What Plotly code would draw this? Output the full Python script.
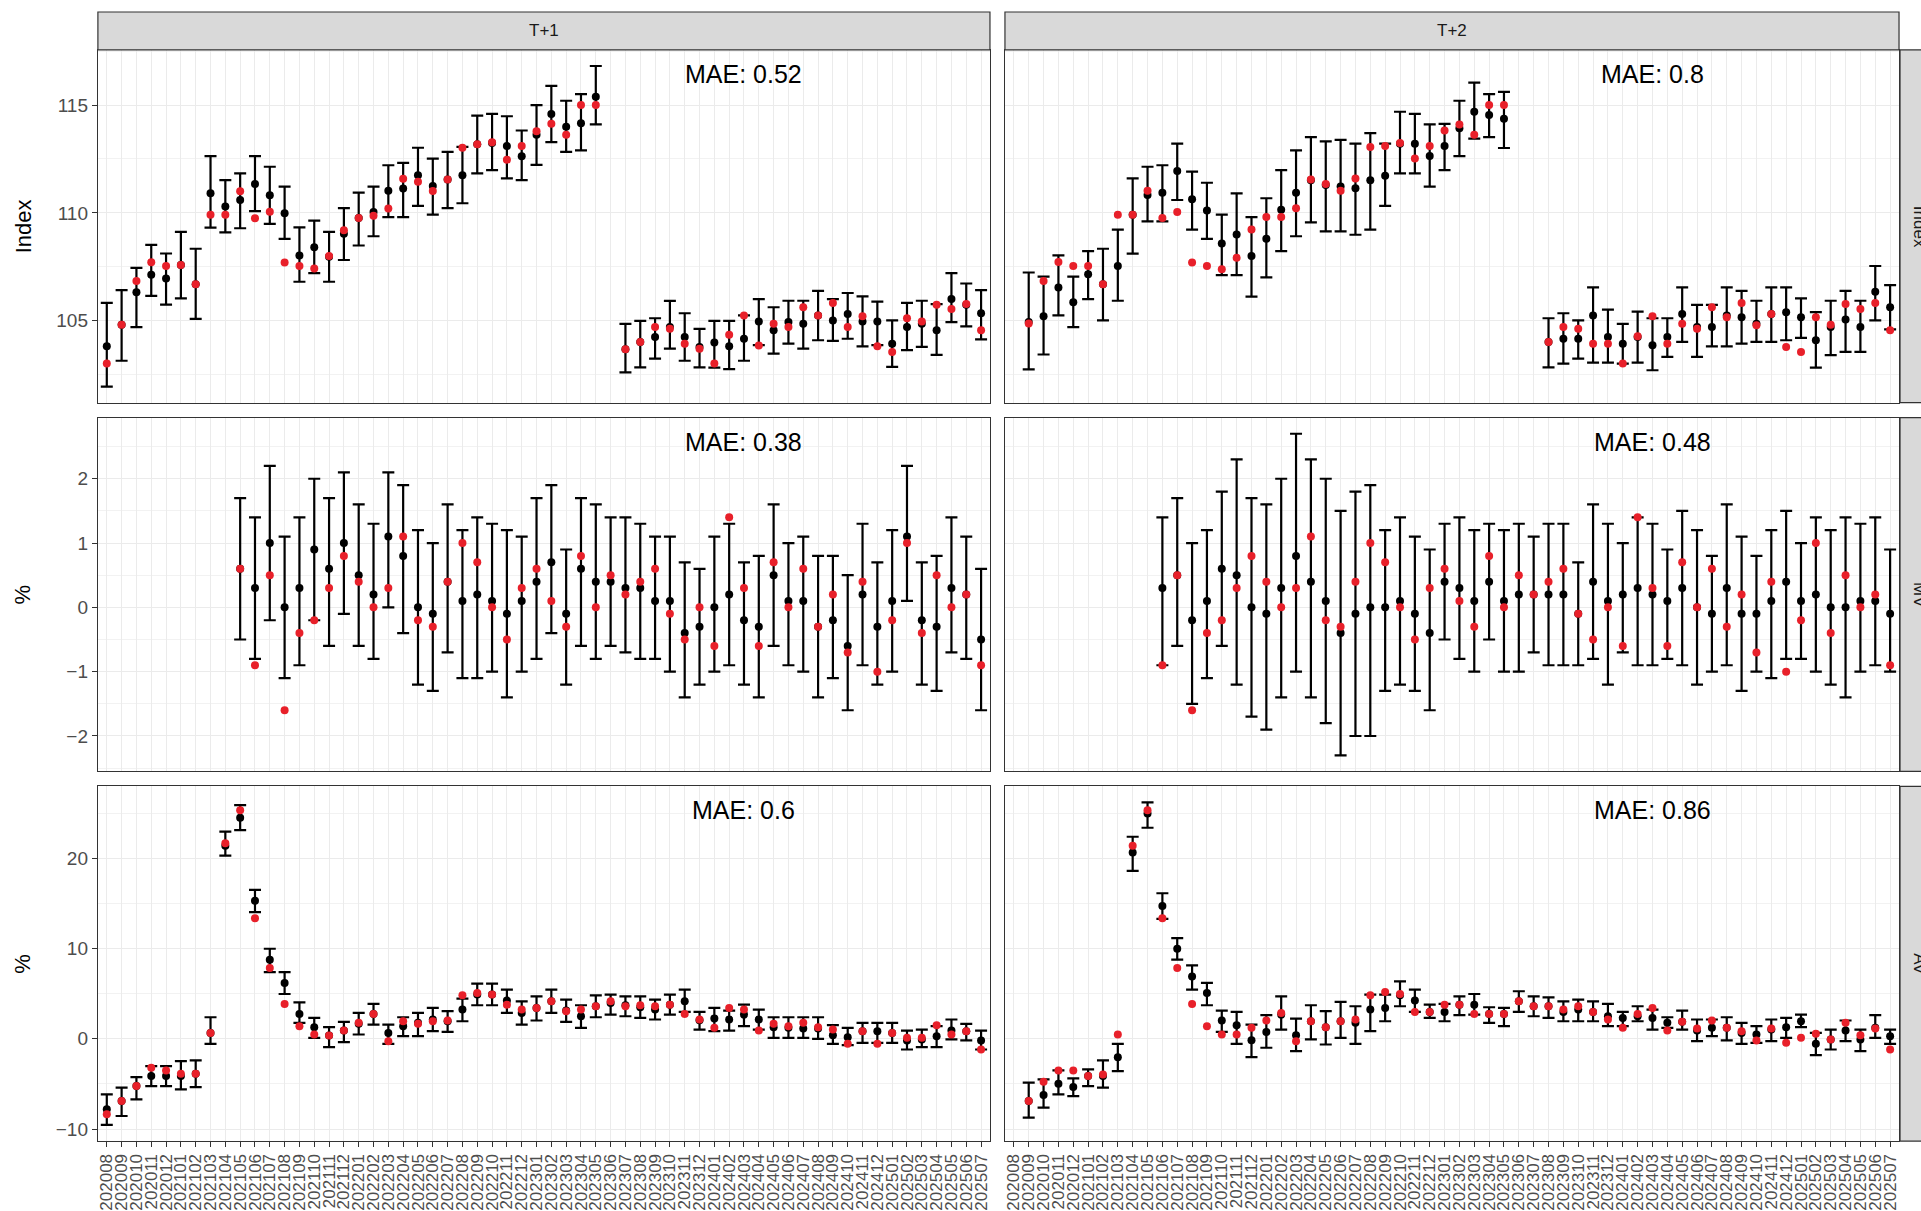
import plotly.graph_objects as go

N = None

# Monthly reference periods shared by all panels
months = [
    "202008", "202009", "202010", "202011", "202012",
    "202101", "202102", "202103", "202104", "202105", "202106",
    "202107", "202108", "202109", "202110", "202111", "202112",
    "202201", "202202", "202203", "202204", "202205", "202206",
    "202207", "202208", "202209", "202210", "202211", "202212",
    "202301", "202302", "202303", "202304", "202305", "202306",
    "202307", "202308", "202309", "202310", "202311", "202312",
    "202401", "202402", "202403", "202404", "202405", "202406",
    "202407", "202408", "202409", "202410", "202411", "202412",
    "202501", "202502", "202503", "202504", "202505", "202506",
    "202507",
]

horizons = ["T+1", "T+2"]
variables = ["Index", "MV", "AV"]
y_titles = ["Index", "%", "%"]
mae_labels = [["MAE: 0.52", "MAE: 0.8"], ["MAE: 0.38", "MAE: 0.48"], ["MAE: 0.6", "MAE: 0.86"]]

# ---- Index, horizon T+1 ----
idx1_fc = [103.82, 104.82, 106.32, 107.14, 106.96, 107.59, 106.70, 110.91, 110.30, 110.60,
           111.34, 110.82, 109.99, 108.03, 108.41, 107.97, 109.03, 109.76, 110.04, 111.03,
           111.13, 111.75, 111.25, 111.55, 111.75, 113.18, 113.24, 113.10, 112.63, 113.62,
           114.59, 114.00, 114.16, 115.38, N, 103.68, 104.02, 104.25, 104.71, 104.25,
           103.79, 103.99, 103.82, 104.17, 104.97, 104.56, 104.94, 104.86, 105.25, 105.02,
           105.32, 104.97, 104.97, 103.94, 104.71, 104.86, 104.56, 106.01, 105.74, 105.35]
idx1_lo = [101.95, 103.15, 104.71, 106.16, 105.75, 106.04, 105.09, 109.32, 109.10, 109.29,
           110.08, 109.49, 108.80, 106.81, 107.21, 106.81, 107.82, 108.49, 108.92, 109.81,
           109.81, 110.33, 109.92, 110.22, 110.45, 111.83, 111.98, 111.60, 111.52, 112.23,
           113.28, 112.83, 112.90, 114.10, N, 102.61, 102.84, 103.25, 103.71, 103.15,
           102.84, 102.83, 102.76, 103.15, 103.87, 103.48, 103.94, 103.71, 104.10, 104.07,
           104.17, 103.82, 103.87, 102.87, 103.64, 103.79, 103.42, 104.94, 104.74, 104.14]
idx1_hi = [105.83, 106.42, 107.45, 108.52, 108.12, 109.12, 108.34, 112.63, 111.52, 111.83,
           112.63, 112.14, 111.22, 109.33, 109.64, 109.12, 110.22, 110.94, 111.22, 112.21,
           112.32, 113.02, 112.52, 112.83, 113.06, 114.51, 114.59, 114.48, 113.82, 115.00,
           115.89, 115.20, 115.51, 116.81, N, 104.86, 105.00, 105.12, 105.92, 105.35,
           104.63, 105.00, 105.00, 105.25, 106.01, 105.63, 105.93, 105.93, 106.39, 106.01,
           106.29, 106.13, 105.89, 105.02, 105.83, 105.93, 105.77, 107.21, 106.73, 106.42]
idx1_act = [103.02, 104.82, 106.84, 107.71, 107.54, 107.59, 106.70, 109.92, 109.92, 111.00,
            109.75, 110.05, 107.70, 107.54, 107.42, 108.00, 109.20, 109.76, 109.87, 110.21,
            111.59, 111.45, 111.02, 111.55, 113.02, 113.18, 113.28, 112.47, 113.10, 113.79,
            114.13, 113.62, 115.00, 115.00, N, 103.68, 104.02, 104.71, 104.63, 103.94,
            103.71, 103.02, 104.36, 105.25, 103.86, 104.86, 104.71, 105.63, 105.25, 105.83,
            104.71, 105.21, 103.82, 103.56, 105.12, 104.97, 105.74, 105.55, 105.78, 104.56]

# ---- Index, horizon T+2 ----
idx2_fc = [N, 104.95, 105.21, 106.55, 105.86, 107.16, 106.70, 107.54, 109.92, 110.83,
           110.94, 111.94, 110.64, 110.11, 108.58, 109.00, 108.00, 108.80, 110.15, 110.94,
           111.52, 111.29, 111.22, 111.14, 111.52, 111.72, 113.21, 113.21, 112.64, 113.10,
           113.93, 114.69, 114.54, 114.36, N, N, 104.02, 104.17, 104.17, 105.25,
           104.25, 103.94, 104.25, 103.87, 104.25, 105.32, 104.71, 104.71, 105.25, 105.17,
           104.86, 105.32, 105.40, 105.17, 104.10, 104.71, 105.06, 104.71, 106.35, 105.63]
idx2_lo = [N, 102.75, 103.44, 105.25, 104.71, 106.01, 105.02, 105.93, 108.11, 109.61,
           109.61, 110.60, 109.23, 108.80, 107.12, 107.12, 106.12, 107.01, 108.23, 108.92,
           109.56, 109.15, 109.15, 108.99, 109.23, 110.33, 111.83, 111.83, 111.22, 111.98,
           112.63, 113.44, 113.51, 113.01, N, N, 102.84, 103.02, 103.25, 103.06,
           103.06, 103.02, 103.06, 102.71, 103.33, 104.02, 103.33, 103.82, 103.82, 103.94,
           104.02, 104.02, 104.10, 104.21, 102.83, 103.41, 103.56, 103.56, 105.02, 104.60]
idx2_hi = [N, 107.24, 107.05, 108.03, 107.05, 108.23, 108.34, 109.23, 111.60, 112.14,
           112.21, 113.21, 111.91, 111.40, 109.92, 110.91, 109.81, 110.68, 111.98, 112.90,
           113.51, 113.32, 113.39, 113.21, 113.70, 113.21, 114.69, 114.59, 114.10, 114.13,
           115.20, 116.04, 115.51, 115.61, N, N, 105.12, 105.35, 105.02, 106.55,
           105.52, 104.86, 105.43, 105.12, 105.12, 106.55, 105.74, 105.74, 106.55, 106.39,
           105.93, 106.55, 106.55, 106.04, 105.40, 105.93, 106.39, 105.93, 107.54, 106.65]
idx2_act = [N, 104.88, 106.85, 107.73, 107.54, 107.54, 106.70, 109.92, 109.92, 111.03,
            109.76, 110.04, 107.70, 107.54, 107.39, 107.92, 109.23, 109.81, 109.81, 110.22,
            111.55, 111.34, 111.03, 111.60, 113.06, 113.10, 113.24, 112.52, 113.10, 113.82,
            114.10, 113.62, 115.00, 115.00, N, N, 104.02, 104.71, 104.63, 103.94,
            103.94, 103.02, 104.29, 105.21, 103.94, 104.86, 104.63, 105.63, 105.17, 105.83,
            104.79, 105.32, 103.79, 103.56, 105.17, 104.82, 105.78, 105.55, 105.83, 104.56]

# ---- MV (%), horizon T+1 ----
mv1_fc = [N] * 9 + [0.6, 0.3, 1.0, 0.0, 0.3, 0.9, 0.6, 1.0, 0.5, 0.2, 1.1, 0.8, 0.0, -0.1, 0.4,
                    0.1, 0.2, 0.1, -0.1, 0.1, 0.4, 0.7, -0.1, 0.6, 0.4, 0.4, 0.3, 0.3, 0.1, 0.1,
                    -0.4, -0.3, 0.0, 0.2, -0.2, -0.3, 0.5, 0.1, 0.1, -0.3, -0.2, -0.6, 0.2, -0.3,
                    0.1, 1.1, -0.2, -0.3, 0.3, 0.2, -0.5]
mv1_lo = [N] * 9 + [-0.5, -0.8, -0.2, -1.1, -0.9, -0.2, -0.6, -0.1, -0.6, -0.8, 0.0, -0.4, -1.2,
                    -1.3, -0.7, -1.1, -1.1, -1.0, -1.4, -1.0, -0.8, -0.4, -1.2, -0.6, -0.8, -0.6,
                    -0.7, -0.8, -0.8, -1.0, -1.4, -1.2, -1.0, -0.9, -1.2, -1.4, -0.6, -0.9, -1.0,
                    -1.4, -1.1, -1.6, -0.9, -1.2, -1.0, 0.1, -1.2, -1.3, -0.7, -0.8, -1.6]
mv1_hi = [N] * 9 + [1.7, 1.4, 2.2, 1.1, 1.4, 2.0, 1.7, 2.1, 1.6, 1.3, 2.1, 1.9, 1.2, 1.0, 1.6,
                    1.2, 1.4, 1.3, 1.2, 1.1, 1.7, 1.9, 0.9, 1.7, 1.6, 1.4, 1.4, 1.3, 1.1, 1.1,
                    0.7, 0.6, 1.1, 1.3, 0.7, 0.8, 1.6, 1.0, 1.1, 0.8, 0.8, 0.5, 1.3, 0.7, 1.2,
                    2.2, 0.7, 0.8, 1.4, 1.1, 0.6]
mv1_act = [N] * 9 + [0.6, -0.9, 0.5, -1.6, -0.4, -0.2, 0.3, 0.8, 0.4, 0.0, 0.3, 1.1, -0.2, -0.3,
                     0.4, 1.0, 0.7, 0.0, -0.5, 0.3, 0.6, 0.1, -0.3, 0.8, 0.0, 0.5, 0.2, 0.4, 0.6,
                     -0.1, -0.5, 0.0, -0.6, 1.4, 0.3, -0.6, 0.7, 0.0, 0.6, -0.3, 0.2, -0.7, 0.4,
                     -1.0, -0.2, 1.0, -0.4, 0.5, 0.0, 0.2, -0.9]

# ---- MV (%), horizon T+2 ----
mv2_fc = [N] * 10 + [0.3, 0.5, -0.2, 0.1, 0.6, 0.5, 0.0, -0.1, 0.3, 0.8, 0.4, 0.1, -0.4, -0.1,
                     0.0, 0.0, 0.1, -0.1, -0.4, 0.4, 0.3, 0.1, 0.4, 0.1, 0.2, 0.2, 0.2, 0.2, -0.1,
                     0.4, 0.1, 0.2, 0.3, 0.2, 0.1, 0.3, 0.0, -0.1, 0.3, -0.1, -0.1, 0.1, 0.4, 0.1,
                     0.2, 0.0, 0.0, 0.1, 0.1, -0.1]
mv2_lo = [N] * 10 + [-0.9, -0.6, -1.5, -1.1, -0.6, -1.2, -1.7, -1.9, -1.4, -1.0, -1.4, -1.8,
                     -2.3, -2.0, -2.0, -1.3, -1.2, -1.3, -1.6, -0.5, -0.8, -1.0, -0.5, -1.0, -1.0,
                     -0.7, -0.9, -0.9, -0.9, -0.8, -1.2, -0.7, -0.9, -0.9, -0.8, -0.9, -1.2, -1.0,
                     -0.9, -1.3, -1.0, -1.1, -0.8, -0.8, -1.0, -1.2, -1.4, -1.0, -0.9, -1.0]
mv2_hi = [N] * 10 + [1.4, 1.7, 1.0, 1.2, 1.8, 2.3, 1.7, 1.6, 2.0, 2.7, 2.3, 2.0, 1.5, 1.8, 1.9,
                     1.2, 1.4, 1.1, 0.9, 1.3, 1.4, 1.2, 1.3, 1.2, 1.3, 1.1, 1.3, 1.3, 0.7, 1.6,
                     1.3, 1.0, 1.4, 1.3, 0.9, 1.5, 1.2, 0.8, 1.6, 1.1, 0.8, 1.2, 1.5, 1.0, 1.4,
                     1.2, 1.4, 1.3, 1.4, 0.9]
mv2_act = [N] * 10 + [-0.9, 0.5, -1.6, -0.4, -0.2, 0.3, 0.8, 0.4, 0.0, 0.3, 1.1, -0.2, -0.3,
                      0.4, 1.0, 0.7, 0.0, -0.5, 0.3, 0.6, 0.1, -0.3, 0.8, 0.0, 0.5, 0.2, 0.4,
                      0.6, -0.1, -0.5, 0.0, -0.6, 1.4, 0.3, -0.6, 0.7, 0.0, 0.6, -0.3, 0.2,
                      -0.7, 0.4, -1.0, -0.2, 1.0, -0.4, 0.5, 0.0, 0.2, -0.9]

# ---- AV (%), horizon T+1 ----
av1_fc = [-7.81, -6.89, -5.23, -4.13, -4.13, -4.13, -3.87, 0.66, 21.40, 24.49,
          15.29, 8.77, 6.19, 2.76, 1.29, 0.37, 0.92, 1.66, 2.76, 0.66,
          1.40, 1.77, 2.14, 1.95, 3.24, 4.90, 4.90, 4.24, 2.87, 3.43,
          4.16, 3.13, 2.50, 3.61, 3.98, 3.72, 3.50, 3.24, 3.79, 4.16,
          2.06, 2.25, 2.14, 2.69, 2.14, 1.29, 1.22, 1.14, 1.14, 0.41,
          0.18, 0.85, 0.85, 0.66, -0.18, -0.07, 0.29, 0.92, 0.85, -0.18]
av1_lo = [-9.54, -8.55, -6.70, -5.23, -5.23, -5.60, -5.34, -0.55, 20.29, 23.13,
          14.03, 7.40, 4.97, 1.77, 0.11, -0.92, -0.37, 0.48, 1.58, -0.55,
          0.29, 0.29, 0.85, 0.77, 1.95, 3.72, 3.72, 2.87, 1.58, 2.03,
          2.87, 1.88, 1.22, 2.39, 2.69, 2.50, 2.32, 2.14, 2.69, 2.98,
          1.03, 0.85, 0.92, 1.40, 1.03, 0.11, 0.11, 0.11, 0.00, -0.55,
          -0.70, -0.44, -0.44, -0.44, -1.18, -0.92, -0.92, -0.07, -0.18, -1.18]
av1_hi = [-6.15, -5.41, -4.24, -3.02, -3.02, -2.47, -2.39, 2.39, 22.95, 25.89,
          16.50, 9.98, 7.40, 4.05, 2.32, 1.29, 1.88, 2.87, 3.87, 1.58,
          2.39, 2.87, 3.43, 3.06, 4.46, 6.11, 6.11, 5.45, 4.16, 4.71,
          5.45, 4.35, 3.72, 4.82, 4.90, 4.71, 4.71, 4.35, 4.90, 5.45,
          2.98, 3.43, 3.13, 3.79, 3.24, 2.39, 2.39, 2.39, 2.39, 1.51,
          1.22, 1.77, 1.77, 1.77, 0.92, 1.03, 1.40, 2.14, 1.66, 0.92]
av1_act = [-8.36, -6.89, -5.23, -3.20, -3.50, -3.87, -3.87, 0.66, 21.66, 25.34,
           13.37, 7.85, 3.87, 1.40, 0.48, 0.37, 0.92, 1.77, 2.76, -0.26,
           1.95, 1.66, 1.95, 2.03, 4.82, 5.08, 4.90, 3.79, 3.24, 3.43,
           4.16, 3.06, 3.24, 3.61, 4.16, 3.61, 3.72, 3.61, 3.79, 2.76,
           2.14, 1.22, 3.43, 3.24, 0.92, 1.66, 1.40, 1.77, 1.29, 1.03,
           -0.55, 0.85, -0.55, 0.66, 0.11, 0.11, 1.51, 0.48, 0.85, -1.18]

# ---- AV (%), horizon T+2 ----
av2_fc = [N, -6.89, -6.22, -4.97, -5.34, -4.13, -4.13, -2.03, 20.66, 24.97,
          14.73, 9.98, 6.92, 5.08, 2.03, 1.51, -0.15, 0.77, 2.69, 0.41,
          1.95, 1.29, 1.95, 1.77, 3.24, 3.43, 4.82, 4.24, 2.98, 2.98,
          3.79, 3.79, 2.76, 2.76, 4.16, 3.61, 3.61, 2.98, 3.24, 2.98,
          2.50, 2.32, 2.50, 2.32, 1.77, 1.88, 0.92, 1.22, 1.22, 0.66,
          0.48, 1.03, 1.29, 1.95, -0.55, -0.07, 0.92, -0.07, 1.22, 0.29]
av2_lo = [N, -8.73, -7.62, -6.15, -6.34, -5.23, -5.41, -3.57, 18.60, 23.39,
          13.30, 8.77, 5.45, 3.72, 0.77, -0.55, -2.03, -0.99, 1.03, -1.36,
          -0.07, -0.63, 0.11, -0.55, 0.85, 1.95, 3.61, 2.98, 2.32, 1.95,
          2.62, 2.69, 1.77, 1.40, 2.98, 2.50, 2.32, 1.95, 1.95, 1.95,
          1.40, 1.40, 1.95, 1.03, 1.22, 1.03, -0.26, 0.29, -0.18, -0.55,
          -0.44, -0.26, 0.11, 1.29, -1.80, -1.18, -0.26, -1.36, 0.11, -0.55]
av2_hi = [N, -4.86, -4.49, -3.50, -4.38, -3.39, -2.39, -0.55, 22.39, 26.19,
          16.13, 11.16, 8.14, 6.19, 3.13, 2.98, 1.58, 2.62, 4.71, 2.25,
          3.72, 3.06, 4.09, 3.61, 4.90, 4.90, 6.37, 5.45, 3.79, 3.87,
          4.71, 4.97, 3.50, 3.43, 5.27, 4.71, 4.60, 4.16, 4.35, 4.16,
          3.87, 2.98, 3.61, 3.24, 2.39, 3.13, 2.14, 2.14, 2.39, 1.77,
          1.40, 2.14, 2.32, 2.69, 0.66, 1.03, 2.03, 1.03, 2.62, 1.03]
av2_act = [N, -6.89, -4.75, -3.50, -3.50, -4.13, -3.94, 0.48, 21.40, 25.34,
           13.37, 7.85, 3.87, 1.40, 0.48, 0.48, 1.22, 2.03, 2.87, -0.26,
           1.95, 1.29, 1.95, 2.14, 4.82, 5.19, 4.97, 2.98, 2.98, 3.79,
           3.79, 2.76, 2.76, 2.76, 4.16, 3.61, 3.61, 3.24, 3.61, 2.98,
           2.14, 1.22, 2.76, 3.43, 0.92, 1.88, 1.14, 2.03, 1.22, 0.85,
           -0.18, 1.14, -0.44, 0.11, 0.55, -0.07, 1.77, 0.41, 1.14, -1.18]

series = {
    (0, 0): (idx1_fc, idx1_lo, idx1_hi, idx1_act),
    (0, 1): (idx2_fc, idx2_lo, idx2_hi, idx2_act),
    (1, 0): (mv1_fc, mv1_lo, mv1_hi, mv1_act),
    (1, 1): (mv2_fc, mv2_lo, mv2_hi, mv2_act),
    (2, 0): (av1_fc, av1_lo, av1_hi, av1_act),
    (2, 1): (av2_fc, av2_lo, av2_hi, av2_act),
}
y_dticks = [5, 1, 10]

# ---- page geometry (pixels) ----
W, H = 1921, 1211
col_px = [(97, 990), (1005, 1900)]
row_px = [(50, 403), (418, 772), (787, 1142)]
strip_top = 12
right_strip = (1901, 1940)

FONT = "Liberation Sans, Arial, sans-serif"
GRID = "#EBEBEB"
BORDER = "#333333"
STRIP_FILL = "#D9D9D9"
RED = "#E8202A"

def fx(p):
    return p / W

def fy(p):
    return 1 - p / H

xs = list(range(1, len(months) + 1))

def row_range(r):
    vals = []
    for c in range(2):
        for arr in series[(r, c)]:
            vals += [v for v in arr if v is not None]
    lo, hi = min(vals), max(vals)
    pad = 0.05 * (hi - lo)
    return [lo - pad, hi + pad]

fig = go.Figure()
layout = {}
annotations = []
shapes = []

for r in range(3):
    yr = row_range(r)
    for c in range(2):
        k = r * 2 + c + 1
        xref = "x" if k == 1 else f"x{k}"
        yref = "y" if k == 1 else f"y{k}"
        fc, lo, hi, act = series[(r, c)]
        err_up = [h - f if f is not None else 0 for f, h in zip(fc, hi)]
        err_dn = [f - l if f is not None else 0 for f, l in zip(fc, lo)]

        fig.add_trace(go.Scatter(
            x=xs, y=fc, mode="markers", xaxis=xref, yaxis=yref, showlegend=False,
            marker=dict(color="black", size=8),
            error_y=dict(type="data", symmetric=False, array=err_up, arrayminus=err_dn,
                         color="black", thickness=2.2, width=6),
        ))
        fig.add_trace(go.Scatter(
            x=xs, y=act, mode="markers", xaxis=xref, yaxis=yref, showlegend=False,
            marker=dict(color=RED, size=8),
        ))

        bottom = r == 2
        left = c == 0
        xkey = "xaxis" if k == 1 else f"xaxis{k}"
        ykey = "yaxis" if k == 1 else f"yaxis{k}"
        layout[xkey] = dict(
            domain=[fx(col_px[c][0]), fx(col_px[c][1])],
            anchor=yref, range=[0.4, len(months) + 0.6],
            tickmode="array", tickvals=xs, ticktext=months,
            showticklabels=bottom, ticks="outside" if bottom else "",
            ticklen=5, tickwidth=1, tickcolor=BORDER, tickangle=-90,
            tickfont=dict(family=FONT, size=17, color="#4D4D4D"),
            showgrid=True, gridcolor=GRID, gridwidth=1, zeroline=False,
            showline=True, mirror=True, linecolor=BORDER, linewidth=1.2,
        )
        dt = y_dticks[r]
        layout[ykey] = dict(
            domain=[fy(row_px[r][1]), fy(row_px[r][0])],
            anchor=xref, range=yr, dtick=dt, tick0=0,
            showticklabels=left, ticks="outside" if left else "",
            ticklen=5, tickwidth=1, tickcolor=BORDER,
            tickfont=dict(family=FONT, size=19, color="#4D4D4D"),
            showgrid=True, gridcolor=GRID, gridwidth=1, zeroline=False,
            minor=dict(dtick=dt / 2, tick0=0, showgrid=True, gridcolor="#F2F2F2", gridwidth=0.6),
            showline=True, mirror=True, linecolor=BORDER, linewidth=1.2,
        )

        annotations.append(dict(
            text=mae_labels[r][c], xref=xref, yref=f"{yref} domain", x=44, y=0.932,
            showarrow=False, xanchor="center", yanchor="middle",
            font=dict(family=FONT, size=25, color="black"),
        ))

    # right-hand facet strip for this row
    shapes.append(dict(type="rect", xref="paper", yref="paper",
                       x0=fx(right_strip[0]), x1=fx(right_strip[1]),
                       y0=fy(row_px[r][1]), y1=fy(row_px[r][0]),
                       fillcolor=STRIP_FILL, line=dict(color=BORDER, width=1.2), layer="below"))
    annotations.append(dict(
        text=variables[r], xref="paper", yref="paper",
        x=fx((right_strip[0] + right_strip[1]) / 2), y=fy((row_px[r][0] + row_px[r][1]) / 2),
        textangle=90, showarrow=False, xanchor="center", yanchor="middle",
        font=dict(family=FONT, size=17, color="#1A1A1A"),
    ))
    # y-axis title
    annotations.append(dict(
        text=y_titles[r], xref="paper", yref="paper",
        x=fx(22), y=fy((row_px[r][0] + row_px[r][1]) / 2),
        textangle=-90, showarrow=False, xanchor="center", yanchor="middle",
        font=dict(family=FONT, size=22, color="black"),
    ))

# top facet strips
for c in range(2):
    shapes.append(dict(type="rect", xref="paper", yref="paper",
                       x0=fx(col_px[c][0]), x1=fx(col_px[c][1]),
                       y0=fy(row_px[0][0]), y1=fy(strip_top),
                       fillcolor=STRIP_FILL, line=dict(color=BORDER, width=1.2)))
    annotations.append(dict(
        text=horizons[c], xref="paper", yref="paper",
        x=fx((col_px[c][0] + col_px[c][1]) / 2), y=fy((strip_top + row_px[0][0]) / 2),
        showarrow=False, xanchor="center", yanchor="middle",
        font=dict(family=FONT, size=17, color="#1A1A1A"),
    ))

fig.update_layout(
    width=W, height=H,
    margin=dict(l=0, r=0, t=0, b=0, pad=0),
    paper_bgcolor="white", plot_bgcolor="white",
    annotations=annotations, shapes=shapes,
    **layout,
)

fig.write_html("out.html")
